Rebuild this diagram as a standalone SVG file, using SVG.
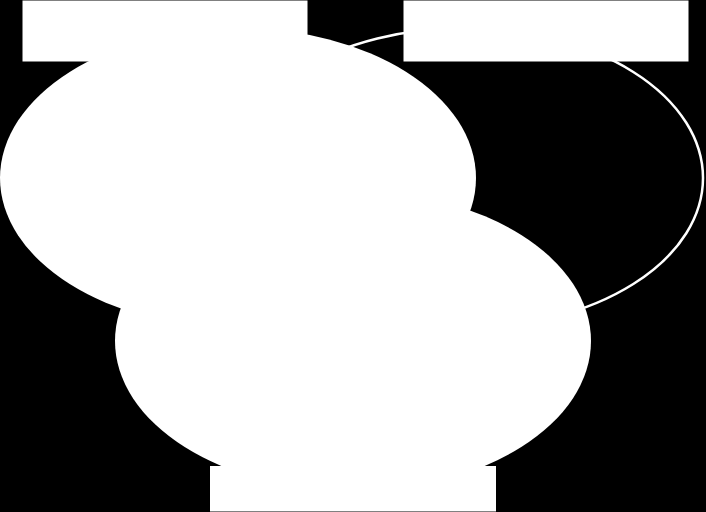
<svg xmlns="http://www.w3.org/2000/svg" width="706" height="512" viewBox="0 0 706 512">
<style>
.fill{fill:#fff;stroke:none}
.ring{fill:none;stroke:#fff;stroke-width:2.5}
.box{fill:#fff;stroke:none}
</style>
<rect x="0" y="0" width="706" height="512" fill="#000"/>
<g id="set-b"><ellipse class="ring" cx="465" cy="178" rx="238" ry="150"/></g>
<g id="set-a"><ellipse class="fill" cx="238" cy="178" rx="238" ry="150"/></g>
<g id="set-c"><ellipse class="fill" cx="353" cy="341" rx="238" ry="150"/></g>
<g id="label-a"><rect class="box" x="22.5" y="0.5" width="285" height="61"/></g>
<g id="label-b"><rect class="box" x="403.5" y="0.5" width="285" height="61"/></g>
<g id="label-c"><rect class="box" x="210" y="466" width="286" height="45.5"/></g>
</svg>
